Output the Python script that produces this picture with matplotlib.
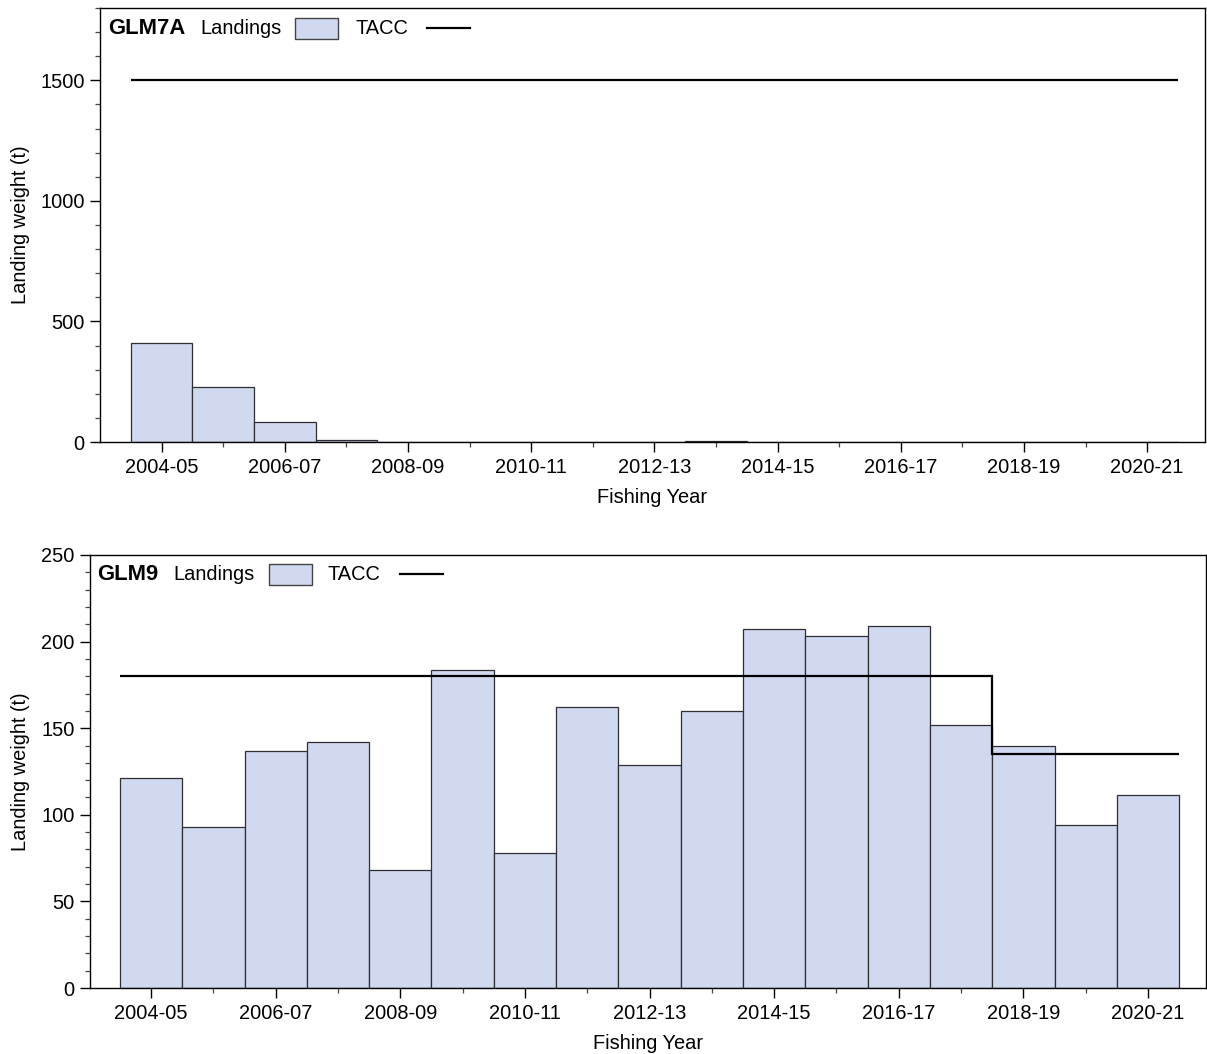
import matplotlib
matplotlib.use("Agg")
import matplotlib.pyplot as plt
from matplotlib.patches import Rectangle
from matplotlib.lines import Line2D
from matplotlib.ticker import MultipleLocator, FixedLocator

plt.rcParams["font.family"] = ["Liberation Sans", "DejaVu Sans"]

fishing_years = ["2004-05", "2005-06", "2006-07", "2007-08", "2008-09", "2009-10",
                 "2010-11", "2011-12", "2012-13", "2013-14", "2014-15", "2015-16",
                 "2016-17", "2017-18", "2018-19", "2019-20", "2020-21"]

glm7a_landings = [410, 227, 82, 7, 0, 0, 0, 0, 0, 6, 0, 0, 0, 0, 0, 0, 0]
glm7a_tacc = [1500] * 17

glm9_landings = [121.5, 93, 137, 142, 68, 183.5, 78, 162, 129, 160,
                 207, 203, 209, 152, 140, 94, 111.5]
glm9_tacc = [180] * 14 + [135] * 3

W, H = 1207, 1054
BAR_FILL = "#d1d9f1"
BAR_EDGE = "#2f2f33"
FS = 14.4

fig = plt.figure(figsize=(W / 100, H / 100), dpi=100)


def fig_xy(x, y):
    return x / W, 1 - y / H


def add_axes_px(left, top, right, bottom):
    return fig.add_axes([left / W, 1 - bottom / H, (right - left) / W, (bottom - top) / H])


def draw_panel(ax, landings, tacc, ymax, major, minor, xlim, ylabel_x):
    n = len(fishing_years)
    xs = list(range(n))
    ax.bar(xs, landings, width=1.0, color=BAR_FILL, edgecolor=BAR_EDGE,
           linewidth=0.9, zorder=2)
    edges = [i - 0.5 for i in range(n + 1)]
    ax.stairs(tacc, edges, baseline=None, color="black", linewidth=1.6, zorder=3)

    ax.set_xlim(*xlim)
    ax.set_ylim(0, ymax)
    ax.xaxis.set_major_locator(FixedLocator(xs[::2]))
    ax.xaxis.set_minor_locator(FixedLocator(xs[1::2]))
    ax.set_xticklabels(fishing_years[::2])
    ax.yaxis.set_major_locator(MultipleLocator(major))
    ax.yaxis.set_minor_locator(MultipleLocator(minor))

    ax.tick_params(axis="both", which="major", direction="out", length=7,
                   width=1, labelsize=FS, color="black")
    ax.tick_params(axis="both", which="minor", direction="out", length=3.5,
                   width=0.9, color="#444444")
    ax.tick_params(axis="x", which="major", pad=4.5)
    ax.tick_params(axis="y", which="major", pad=4)

    for s in ax.spines.values():
        s.set_linewidth(1.0)
        s.set_color("black")

    ax.set_xlabel("Fishing Year", fontsize=FS)
    ax.set_ylabel("Landing weight (t)", fontsize=FS)
    ax.xaxis.set_label_coords(0.5, -0.106)
    ax.yaxis.set_label_coords(ylabel_x, 0.5)


def draw_key(name, x_name, x_land, x_patch, x_tacc, x_line, y):
    fig.text(*fig_xy(x_name, y), name, fontsize=15.8, fontweight="bold",
             ha="left", va="center")
    fig.text(*fig_xy(x_land, y), "Landings", fontsize=FS, ha="left", va="center")
    px0, py0 = fig_xy(x_patch, y + 10.5)
    fig.add_artist(Rectangle((px0, py0), 43 / W, 21 / H, transform=fig.transFigure,
                             facecolor=BAR_FILL, edgecolor="#444444", linewidth=1.0))
    fig.text(*fig_xy(x_tacc, y), "TACC", fontsize=FS, ha="left", va="center")
    lx0, ly = fig_xy(x_line, y)
    lx1, _ = fig_xy(x_line + 43, y)
    fig.add_artist(Line2D([lx0, lx1], [ly, ly], transform=fig.transFigure,
                          color="black", linewidth=1.6))


# GLM7A panel
ax1 = add_axes_px(100, 8, 1205, 442)
draw_panel(ax1, glm7a_landings, glm7a_tacc, 1800, 500, 100,
           (-1.0, 16.94), (30 - 100) / 1105)
draw_key("GLM7A", 108, 200, 295, 355, 427, 28)

# GLM9 panel
ax2 = add_axes_px(90, 555, 1206, 988)
draw_panel(ax2, glm9_landings, glm9_tacc, 250, 50, 10,
           (-0.98, 16.93), (30 - 90) / 1116)
draw_key("GLM9", 97, 173, 269, 328, 400, 574)

fig.savefig("out.png", dpi=100)
